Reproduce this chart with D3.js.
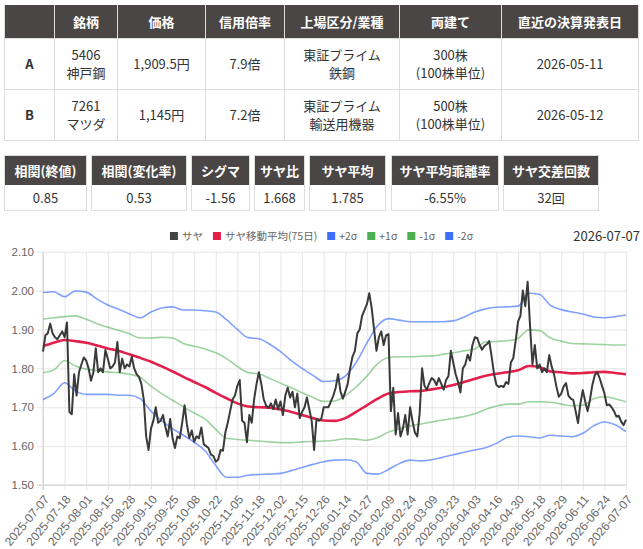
<!DOCTYPE html>
<html>
<head>
<meta charset="utf-8">
<script src="https://cdn.jsdelivr.net/npm/d3@7"></script>
<style>
body { margin: 0; background: #fff; font-family: "Noto Sans CJK JP", "Noto Sans", sans-serif; color: #333; }
#wrap { position: relative; width: 643px; height: 549px; overflow: hidden; }
#chart { position: absolute; left: 0; top: 0; }
table.info { position: absolute; left: 4px; top: 5px; border-collapse: collapse; table-layout: fixed; font-size: 13px; }
table.info th { background: #4b4646; color: #fff; font-weight: bold; padding: 0; border: 1px solid #ddd; border-top: none; }
table.info td { text-align: center; padding: 0; border: 1px solid #ddd; line-height: 18px; }
table.info td.key { font-weight: bold; }
.stat { position: absolute; box-sizing: border-box; border: 1px solid #ddd; font-size: 13px; text-align: center; }
.stat .h { background: #4b4646; color: #fff; font-weight: bold; height: 29px; line-height: 29px; white-space: nowrap; }
.stat .v { height: 25px; line-height: 25px; }
</style>
</head>
<body>
<div id="wrap"></div>
<script>
// ---- données ----
const infoHeaders = ["", "銘柄", "価格", "信用倍率", "上場区分/業種", "両建て", "直近の決算発表日"];
const infoRowA = ["A", ["5406", "神戸鋼"], ["1,909.5円"], ["7.9倍"], ["東証プライム", "鉄鋼"], ["300株", "(100株単位)"], ["2026-05-11"]];
const infoRowB = ["B", ["7261", "マツダ"], ["1,145円"], ["7.2倍"], ["東証プライム", "輸送用機器"], ["500株", "(100株単位)"], ["2026-05-12"]];

const statLabels = ["相関(終値)", "相関(変化率)", "シグマ", "サヤ比", "サヤ平均", "サヤ平均乖離率", "サヤ交差回数"];
const statValues = ["0.85", "0.53", "-1.56", "1.668", "1.785", "-6.55%", "32回"];

const legendLabels = ["サヤ", "サヤ移動平均(75日)", "+2σ", "+1σ", "-1σ", "-2σ"];
const lastDate = "2026-07-07";

const tickLabels = ["2025-07-07", "2025-07-18", "2025-08-01", "2025-08-15", "2025-08-28", "2025-09-10",
	"2025-09-25", "2025-10-08", "2025-10-22", "2025-11-05", "2025-11-18", "2025-12-02", "2025-12-15",
	"2025-12-26", "2026-01-14", "2026-01-27", "2026-02-09", "2026-02-24", "2026-03-09", "2026-03-23",
	"2026-04-03", "2026-04-16", "2026-04-30", "2026-05-18", "2026-05-29", "2026-06-11", "2026-06-24", "2026-07-07"];
const tickEvery = 9; // un libellé tous les 9 jours de bourse

// サヤ (un point par jour de bourse)
const saya = [
	1.843, 1.885, 1.89, 1.915, 1.89, 1.88, 1.875, 1.885, 1.895, 1.88,
	1.918, 1.688, 1.682, 1.785, 1.73, 1.79, 1.81, 1.828, 1.82, 1.80,
	1.768, 1.79, 1.852, 1.79, 1.80, 1.79, 1.847, 1.825, 1.80, 1.805,
	1.815, 1.868, 1.79, 1.825, 1.80, 1.81, 1.805, 1.83, 1.80, 1.785,
	1.778, 1.76, 1.72, 1.625, 1.59, 1.645, 1.665, 1.70, 1.66, 1.665,
	1.68, 1.65, 1.625, 1.67, 1.62, 1.595, 1.625, 1.62, 1.66, 1.705,
	1.655, 1.621, 1.64, 1.611, 1.625, 1.62, 1.648, 1.605, 1.60, 1.595,
	1.578, 1.575, 1.56, 1.565, 1.59, 1.588, 1.635, 1.66, 1.69, 1.72,
	1.73, 1.755, 1.77, 1.665, 1.66, 1.61, 1.68, 1.66, 1.72, 1.76,
	1.79, 1.76, 1.72, 1.705, 1.698, 1.71, 1.695, 1.72, 1.695, 1.715,
	1.68, 1.73, 1.75, 1.725, 1.74, 1.70, 1.735, 1.672, 1.688, 1.70,
	1.725, 1.695, 1.665, 1.59, 1.67, 1.665, 1.67, 1.70, 1.70, 1.70,
	1.715, 1.73, 1.75, 1.785, 1.74, 1.722, 1.74, 1.76, 1.80, 1.83,
	1.845, 1.89, 1.90, 1.935, 1.95, 1.965, 1.993, 1.955, 1.90, 1.845,
	1.88, 1.895, 1.86, 1.885, 1.888, 1.69, 1.75, 1.63, 1.685, 1.625,
	1.645, 1.68, 1.63, 1.70, 1.665, 1.635, 1.625, 1.685, 1.80, 1.755,
	1.745, 1.762, 1.775, 1.77, 1.757, 1.775, 1.76, 1.745, 1.77, 1.78,
	1.845, 1.815, 1.785, 1.765, 1.738, 1.80, 1.81, 1.835, 1.82, 1.86,
	1.88, 1.878, 1.86, 1.848, 1.858, 1.862, 1.87, 1.83, 1.785, 1.757,
	1.752, 1.755, 1.752, 1.765, 1.76, 1.815, 1.826, 1.87, 1.92, 1.935,
	2.00, 1.96, 2.023, 1.91, 1.81, 1.86, 1.80, 1.81, 1.79, 1.80,
	1.79, 1.834, 1.805, 1.785, 1.753, 1.727, 1.735, 1.753, 1.762, 1.73,
	1.722, 1.719, 1.69, 1.659, 1.71, 1.744, 1.715, 1.69, 1.72, 1.758,
	1.783, 1.79, 1.775, 1.755, 1.736, 1.705, 1.707, 1.70, 1.69, 1.676,
	1.678, 1.663, 1.654, 1.668
];

// bandes relevées tous les 4.5 jours de bourse
const bandStep = 4.5;
const ma75 = [1.857, 1.866, 1.873, 1.87, 1.866, 1.859, 1.851, 1.845, 1.836, 1.827,
	1.817, 1.805, 1.792, 1.778, 1.765, 1.752, 1.737, 1.723, 1.71, 1.702,
	1.70, 1.699, 1.694, 1.688, 1.68, 1.672, 1.666, 1.665, 1.672, 1.688,
	1.705, 1.722, 1.735, 1.739, 1.741, 1.742, 1.746, 1.751, 1.757, 1.765,
	1.773, 1.781, 1.786, 1.79, 1.795, 1.806, 1.803, 1.792, 1.79, 1.787,
	1.788, 1.79, 1.791, 1.788, 1.785];
const plus1 = [1.927, 1.93, 1.933, 1.935, 1.926, 1.915, 1.906, 1.898, 1.889, 1.878,
	1.878, 1.88, 1.878, 1.864, 1.857, 1.85, 1.84, 1.825, 1.805, 1.789,
	1.786, 1.774, 1.762, 1.75, 1.737, 1.725, 1.715, 1.716, 1.73, 1.752,
	1.78, 1.812, 1.828, 1.83, 1.83, 1.831, 1.832, 1.836, 1.84, 1.845,
	1.85, 1.868, 1.869, 1.871, 1.877, 1.899, 1.897, 1.878, 1.87, 1.864,
	1.863, 1.862, 1.861, 1.86, 1.86];
const plus2 = [1.995, 1.997, 1.984, 1.999, 1.996, 1.978, 1.963, 1.952, 1.94, 1.93,
	1.945, 1.955, 1.958, 1.95, 1.95, 1.948, 1.945, 1.925, 1.90, 1.879,
	1.876, 1.862, 1.843, 1.82, 1.80, 1.782, 1.766, 1.768, 1.78, 1.815,
	1.865, 1.91, 1.928, 1.924, 1.92, 1.92, 1.92, 1.92, 1.922, 1.932,
	1.945, 1.953, 1.957, 1.958, 1.96, 1.993, 1.99, 1.962, 1.951, 1.945,
	1.94, 1.932, 1.93, 1.933, 1.937];
const minus1 = [1.789, 1.796, 1.82, 1.806, 1.798, 1.794, 1.791, 1.789, 1.785, 1.777,
	1.754, 1.735, 1.718, 1.701, 1.685, 1.67, 1.643, 1.62, 1.617, 1.615,
	1.613, 1.611, 1.609, 1.609, 1.611, 1.612, 1.613, 1.615, 1.619, 1.618,
	1.615, 1.622, 1.636, 1.645, 1.652, 1.657, 1.662, 1.667, 1.671, 1.676,
	1.683, 1.694, 1.703, 1.708, 1.708, 1.714, 1.714, 1.713, 1.708, 1.704,
	1.705, 1.722, 1.727, 1.722, 1.714];
const minus2 = [1.72, 1.735, 1.763, 1.742, 1.733, 1.733, 1.733, 1.731, 1.731, 1.722,
	1.69, 1.665, 1.645, 1.628, 1.61, 1.588, 1.55, 1.52, 1.52, 1.525,
	1.527, 1.528, 1.53, 1.537, 1.545, 1.553, 1.56, 1.564, 1.565, 1.56,
	1.53, 1.528, 1.54, 1.555, 1.564, 1.562, 1.565, 1.571, 1.578, 1.584,
	1.59, 1.596, 1.607, 1.622, 1.626, 1.624, 1.621, 1.628, 1.626, 1.624,
	1.633, 1.652, 1.662, 1.655, 1.637];

// ---- tableaux ----
let wrap = d3.select("#wrap");
let svg = wrap.append("svg").attr("id", "chart").attr("width", 643).attr("height", 549);

let colW = [50, 63, 88, 79, 115, 102, 137];
let tbl = wrap.append("table").attr("class", "info");
tbl.append("colgroup").selectAll("col").data(colW).join("col").style("width", d => d + "px");
tbl.append("tr").style("height", "33px")
	.selectAll("th").data(infoHeaders).join("th").text(d => d);
for (let row of [infoRowA, infoRowB]) {
	tbl.append("tr").style("height", "51px")
		.selectAll("td").data(row).join("td")
		.attr("class", (d, i) => i === 0 ? "key" : null)
		.html(d => Array.isArray(d) ? d.join("<br>") : d);
}

let statX = [[4, 87], [91, 187], [191, 250], [254, 305], [309, 386], [391, 499], [503, 599]];
statLabels.forEach((lab, i) => {
	let b = wrap.append("div").attr("class", "stat")
		.style("left", statX[i][0] + "px").style("top", "155px")
		.style("width", (statX[i][1] - statX[i][0]) + "px");
	b.append("div").attr("class", "h").text(lab);
	b.append("div").attr("class", "v").text(statValues[i]);
});

// ---- graphique ----
let margin = {left: 43, right: 626, top: 251.7, bottom: 485};
let x = d3.scaleLinear().domain([0, saya.length - 1]).range([margin.left, margin.right]);
let y = d3.scaleLinear().domain([1.5, 2.1]).range([margin.bottom, margin.top]);
let tickIdx = tickLabels.map((d, i) => i * tickEvery);

let gy = svg.append("g")
	.attr("transform", `translate(${margin.left - 6},0)`)
	.call(d3.axisLeft(y).ticks(6).tickFormat(d3.format(".2f")).tickSize(-(margin.right - margin.left + 6)).tickPadding(3));
gy.select(".domain").remove();
gy.selectAll("line").attr("stroke", "#e6e6e6");
gy.selectAll("text").attr("fill", "#666").style("font", "11.5px 'Liberation Sans', Arial, sans-serif");

let gx = svg.append("g")
	.attr("transform", `translate(0,${margin.bottom + 5})`)
	.call(d3.axisBottom(x).tickValues(tickIdx).tickFormat((d, i) => tickLabels[i]).tickSize(-(margin.bottom + 5 - margin.top)));
gx.select(".domain").remove();
gx.selectAll("line").attr("stroke", "#e6e6e6");
gx.selectAll("text")
	.attr("fill", "#666")
	.style("font", "12px 'Liberation Sans', Arial, sans-serif")
	.attr("text-anchor", "end")
	.attr("x", 0).attr("y", 0).attr("dy", "0.35em")
	.attr("transform", "translate(3,7) rotate(-50)");

// axes
svg.append("line").attr("x1", margin.left).attr("x2", margin.left)
	.attr("y1", margin.top).attr("y2", margin.bottom + 5).attr("stroke", "#d0d0d0");
svg.append("line").attr("x1", margin.left - 6).attr("x2", margin.right)
	.attr("y1", margin.bottom).attr("y2", margin.bottom).attr("stroke", "#d0d0d0");

let bandLine = d3.line().x((d, i) => x(i * bandStep)).y(d => y(d)).curve(d3.curveMonotoneX);
let bands = [
	{v: minus2, c: "rgba(60,110,255,0.65)"},
	{v: minus1, c: "rgba(76,175,80,0.55)"},
	{v: plus1, c: "rgba(76,175,80,0.55)"},
	{v: plus2, c: "rgba(60,110,255,0.65)"},
];
for (let b of bands) {
	svg.append("path").datum(b.v).attr("d", bandLine)
		.attr("fill", "none").attr("stroke", b.c).attr("stroke-width", 1.6);
}
svg.append("path").datum(ma75).attr("d", bandLine)
	.attr("fill", "none").attr("stroke", "#e3204a").attr("stroke-width", 2.6);

svg.append("path").datum(saya)
	.attr("d", d3.line().x((d, i) => x(i)).y(d => y(d)))
	.attr("fill", "none").attr("stroke", "#3a3a3a").attr("stroke-width", 2)
	.attr("stroke-linejoin", "round");

// légende
let legColors = ["#444", "#e3204a", "#3d6ef5", "#4caf50", "#4caf50", "#3d6ef5"];
let leg = svg.append("g").style("font", "10.5px 'Noto Sans CJK JP', sans-serif");
let cx = 0;
legendLabels.forEach((lab, i) => {
	let g = leg.append("g").attr("transform", `translate(${cx},0)`);
	g.append("rect").attr("x", 0).attr("y", -4).attr("width", 8).attr("height", 8).attr("fill", legColors[i]);
	let t = g.append("text").attr("x", 12).attr("dy", "0.35em").attr("fill", "#666").text(lab);
	cx += 12 + t.node().getComputedTextLength() + 10;
});
leg.attr("transform", `translate(${321.5 - (cx - 10) / 2},236)`);

svg.append("text").attr("x", 640).attr("y", 236).attr("dy", "0.35em")
	.attr("text-anchor", "end").attr("fill", "#333")
	.style("font", "13px 'Noto Sans CJK JP', sans-serif")
	.text(lastDate);
</script>
</body>
</html>
